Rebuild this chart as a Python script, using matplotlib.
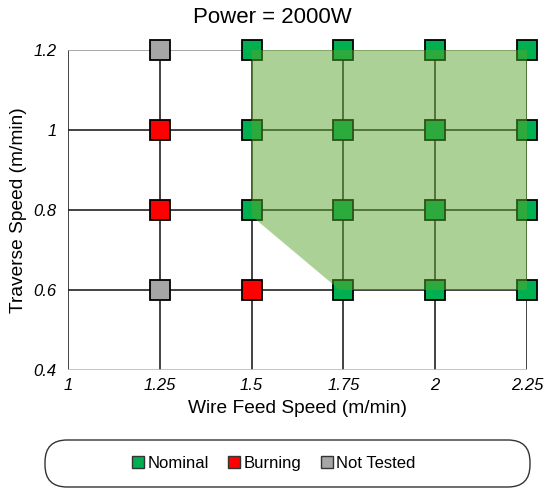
import matplotlib
matplotlib.use("Agg")
import matplotlib.pyplot as plt
from matplotlib.patches import Polygon, FancyBboxPatch
from matplotlib.lines import Line2D
from matplotlib.transforms import IdentityTransform

plt.rcParams['font.family'] = ['Liberation Sans', 'DejaVu Sans']

# test points (wire feed speed, traverse speed)
nominal_x = [1.5, 1.5, 1.5, 1.75, 1.75, 1.75, 1.75, 2.0, 2.0, 2.0, 2.0, 2.25, 2.25, 2.25, 2.25]
nominal_y = [1.2, 1.0, 0.8, 1.2, 1.0, 0.8, 0.6, 1.2, 1.0, 0.8, 0.6, 1.2, 1.0, 0.8, 0.6]
burning_x = [1.25, 1.25, 1.5]
burning_y = [1.0, 0.8, 0.6]
untested_x = [1.25, 1.25]
untested_y = [1.2, 0.6]

# nominal process window outline
window_x = [1.5, 2.25, 2.25, 1.74, 1.5]
window_y = [1.2, 1.2, 0.6, 0.6, 0.785]

xticks = [1, 1.25, 1.5, 1.75, 2, 2.25]
xlabels = ['1', '1.25', '1.5', '1.75', '2', '2.25']
yticks = [0.4, 0.6, 0.8, 1.0, 1.2]
ylabels = ['0.4', '0.6', '0.8', '1', '1.2']

GREEN = '#00B050'
RED = '#FF0000'
GREY = '#A6A6A6'

fig = plt.figure(figsize=(5.5, 4.94), dpi=100)
ax = fig.add_axes([68/550, 1-370/494, (527-68)/550, (370-50)/494])

ax.set_xlim(1, 2.25)
ax.set_ylim(0.4, 1.2)

# grid
for x in xticks:
    ax.axvline(x, color='#222222', lw=1.2, zorder=1)
for y in [0.6, 0.8, 1.0]:
    ax.axhline(y, color='#222222', lw=1.2, zorder=1)
ax.axhline(1.2, color='#999999', lw=1.2, zorder=1)
ax.axhline(0.4, color='#BBBBBB', lw=1.2, zorder=1)

for s in ax.spines.values():
    s.set_visible(False)

ms = 15
ax.plot(nominal_x, nominal_y, 's', ms=ms, mfc=GREEN, mec='black', mew=1.3, zorder=3, clip_on=False)
ax.plot(burning_x, burning_y, 's', ms=ms, mfc=RED, mec='black', mew=1.3, zorder=3, clip_on=False)
ax.plot(untested_x, untested_y, 's', ms=ms, mfc=GREY, mec='black', mew=1.3, zorder=3, clip_on=False)

ax.add_patch(Polygon(list(zip(window_x, window_y)), closed=True,
                     facecolor='#5AA52E', edgecolor='none', alpha=0.5, zorder=4))

ax.set_xticks(xticks)
ax.set_xticklabels(xlabels, fontstyle='italic', fontsize=12)
ax.set_yticks(yticks)
ax.set_yticklabels(ylabels, fontstyle='italic', fontsize=12)
ax.tick_params(length=0, pad=6)
ax.tick_params(axis='y', pad=8)

ax.set_xlabel('Wire Feed Speed (m/min)', fontsize=13.8, labelpad=5)
ax.set_ylabel('Traverse Speed (m/min)', fontsize=13.8, labelpad=5)
fig.text(272/550, 1-23/494, 'Power = 2000W', fontsize=16, ha='center', va='baseline')

# legend in a pill shaped box (pixel coords)
box = FancyBboxPatch((45, 7), 485, 47, boxstyle='round,pad=0,rounding_size=22',
                     transform=IdentityTransform(), facecolor='white', edgecolor='#333333', lw=1.0)
fig.patches.append(box)

handles = [Line2D([], [], ls='none', marker='s', ms=8, mfc=c, mec='#333333', mew=1.0)
           for c in [GREEN, RED, GREY]]
fig.legend(handles, ['Nominal', 'Burning', 'Not Tested'], loc='center',
           bbox_to_anchor=(274/550, 1-463/494), ncol=3, frameon=False, fontsize=12,
           handlelength=0.7, handletextpad=0.2, columnspacing=1.2)

fig.savefig('out.png', dpi=100)
